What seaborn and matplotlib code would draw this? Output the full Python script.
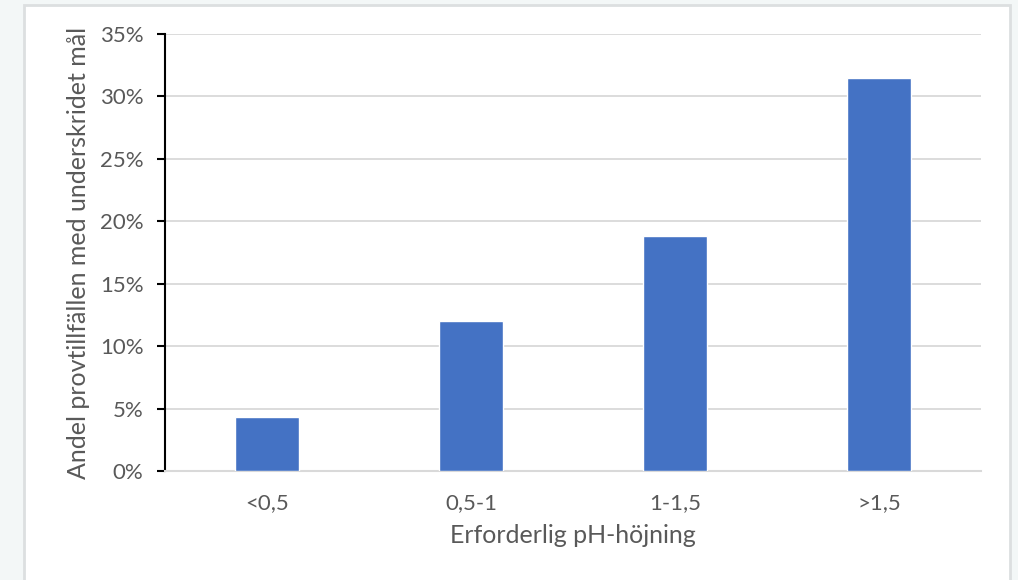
import matplotlib
matplotlib.use("Agg")
import matplotlib.pyplot as plt
import matplotlib.patches as mpatches
from matplotlib.ticker import PercentFormatter, MultipleLocator
import seaborn as sns
import pandas as pd

# Share of samples below target, per required pH increase
categories = ["<0,5", "0,5-1", "1-1,5", ">1,5"]
shares = [4.3, 12.0, 18.8, 31.5]

df = pd.DataFrame({"kategori": categories, "andel": shares})

sns.set_theme(style="white")
plt.rcParams["font.family"] = ["Lato", "DejaVu Sans"]

fig = plt.figure(figsize=(10.18, 5.8), dpi=100)
fig.patch.set_facecolor("#F3F7F7")

# White card behind the chart
W, H = 1018, 580
card = mpatches.Rectangle((24 / W, -0.02), (1010 - 24) / W, 1.0 - 5 / H + 0.02,
                          transform=fig.transFigure, facecolor="white",
                          edgecolor="#DCDFE0", linewidth=2, zorder=-5)
fig.patches.append(card)

ax = fig.add_axes([165 / W, 109 / H, 816 / W, 437 / H])
ax.set_facecolor("none")

sns.barplot(data=df, x="kategori", y="andel", color="#4472C4", saturation=1,
            width=0.314, ax=ax, zorder=3)

ax.set_ylim(0, 35)
ax.yaxis.set_major_locator(MultipleLocator(5))
ax.yaxis.set_major_formatter(PercentFormatter(decimals=0))
ax.grid(axis="y", color="#D9D9D9", linewidth=1.3, zorder=0)
ax.set_axisbelow(True)

for side in ["top", "right"]:
    ax.spines[side].set_visible(False)
ax.spines["left"].set_color("black")
ax.spines["left"].set_linewidth(1.5)
ax.spines["bottom"].set_color("#D9D9D9")
ax.spines["bottom"].set_linewidth(1.5)

ax.tick_params(axis="y", which="major", direction="out", length=5.5, width=1.5,
               color="black", labelsize=16, labelcolor="#595959", pad=10, left=True)
ax.tick_params(axis="x", length=0, labelsize=16, labelcolor="#595959", pad=16)

ax.set_xlabel("Erforderlig pH-höjning", fontsize=18, color="#595959", labelpad=8)
ax.set_ylabel("Andel provtillfällen med underskridet mål", fontsize=18,
              color="#595959", labelpad=7)

fig.savefig("out.png", dpi=100, facecolor=fig.get_facecolor())
